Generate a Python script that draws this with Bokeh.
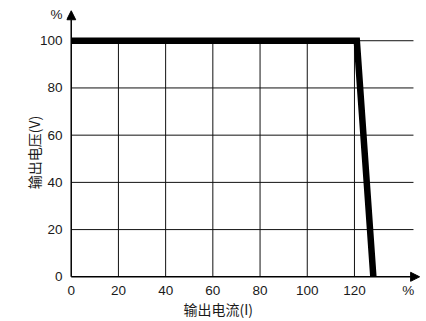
from bokeh.plotting import figure
from bokeh.models import Range1d, FixedTicker, Arrow, NormalHead, Title
from bokeh.embed import file_html
from bokeh.resources import INLINE

# Data
current = [0, 121, 128]          # output current, %
voltage = [100, 100, 0]          # output voltage, %
x_ticks = [0, 20, 40, 60, 80, 100, 120]
y_ticks = [0, 20, 40, 60, 80, 100]
x_unit_pos = 142.8
y_unit_pos = 111
grid_x_end = 145
x_axis_end = 147.6
y_axis_end = 112.7
x_title = "输出电流(I)"
y_title = "输出电压(V)"

p = figure(output_backend="svg", toolbar_location=None,
           x_range=Range1d(-2, 148.4), y_range=Range1d(-9.19, 114.5),
           frame_width=355, frame_height=292,
           min_border_left=66, min_border_right=5, min_border_top=6, min_border_bottom=23,
           background_fill_color="white", border_fill_color="white")
p.outline_line_color = None
p.xgrid.visible = False
p.ygrid.visible = False

# grid lines
vx = x_ticks[1:]
p.segment(x0=vx, y0=[0]*len(vx), x1=vx, y1=[y_ticks[-1]]*len(vx), line_color="#111111", line_width=1)
hy = y_ticks[1:]
p.segment(x0=[0]*len(hy), y0=hy, x1=[grid_x_end]*len(hy), y1=hy, line_color="#111111", line_width=1)

# characteristic curve
p.line(current, voltage, line_color="black", line_width=6.5, line_join="miter", line_cap="butt")

# axes with arrows
p.add_layout(Arrow(end=NormalHead(size=9, fill_color="black", line_color="black", line_width=1),
                   x_start=0, y_start=0, x_end=x_axis_end, y_end=0, line_width=1.5, line_color="black"))
p.add_layout(Arrow(end=NormalHead(size=9, fill_color="black", line_color="black", line_width=1),
                   x_start=0, y_start=0, x_end=0, y_end=y_axis_end, line_width=1.5, line_color="black"))

xt = x_ticks + [x_unit_pos]
yt = y_ticks + [y_unit_pos]
p.xaxis.ticker = FixedTicker(ticks=xt)
p.xaxis.major_label_overrides = {t: str(t) for t in x_ticks} | {x_unit_pos: "%"}
p.xaxis.fixed_location = -2
p.yaxis.ticker = FixedTicker(ticks=yt)
p.yaxis.major_label_overrides = {t: str(t) for t in y_ticks} | {y_unit_pos: "%"}

for ax in (p.xaxis, p.yaxis):
    ax.axis_line_color = None
    ax.major_tick_line_color = None
    ax.minor_tick_line_color = None
    ax.major_tick_out = 0
    ax.major_tick_in = 0
    ax.major_label_text_font = "Liberation Sans"
    ax.major_label_text_font_size = "13.5px"
    ax.major_label_text_color = "#1a1a1a"
    ax.axis_label_text_font = "Noto Sans CJK SC"
    ax.axis_label_text_font_size = "14px"
    ax.axis_label_text_font_style = "normal"
    ax.axis_label_text_color = "#1a1a1a"

p.yaxis.axis_label = y_title
p.xaxis.major_label_standoff = 1
p.yaxis.major_label_standoff = 4
p.yaxis.axis_label_standoff = -7

p.add_layout(Title(text=x_title, align="left", vertical_align="top", offset=117, standoff=0,
                   text_font="Noto Sans CJK SC", text_font_size="14px",
                   text_font_style="normal", text_color="#1a1a1a"), "below")

open("out.html", "w").write(file_html(p, INLINE))
